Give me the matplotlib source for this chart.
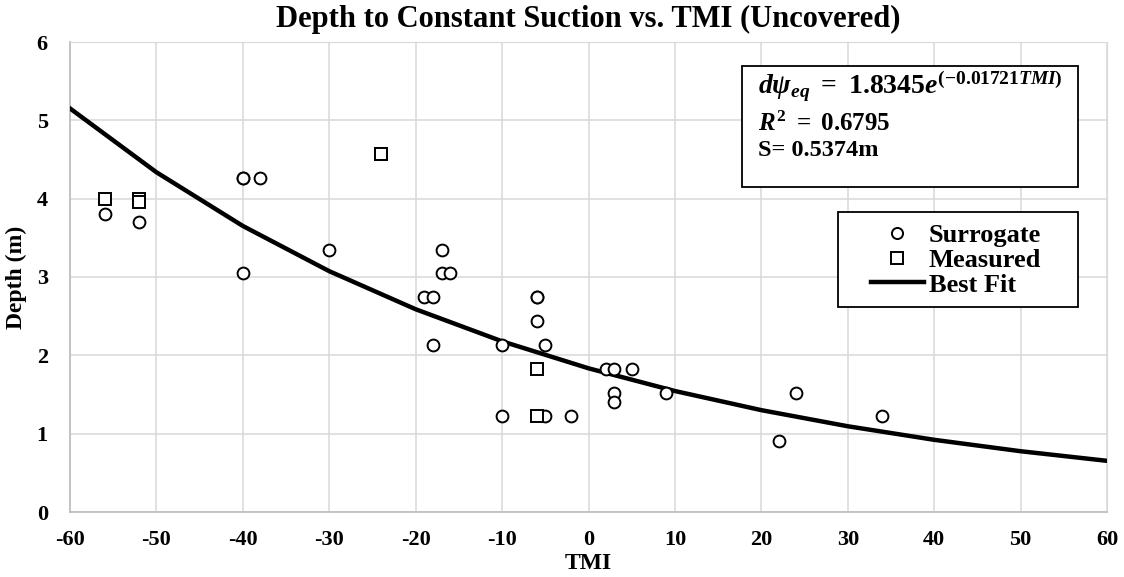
import matplotlib.pyplot as plt
import numpy as np
from matplotlib.patches import Rectangle
from matplotlib.lines import Line2D

plt.rcParams['font.family'] = 'Liberation Serif'
plt.rcParams['font.weight'] = 'bold'
plt.rcParams['axes.unicode_minus'] = False
plt.rcParams['mathtext.fontset'] = 'custom'
plt.rcParams['mathtext.rm'] = 'Liberation Serif:bold'
plt.rcParams['mathtext.it'] = 'Liberation Serif:italic:bold'
plt.rcParams['mathtext.bf'] = 'Liberation Serif:bold'

# surrogate points (TMI, depth m)
surr_tmi = [-56, -52, -40, -40, -38, -40, -30, -19, -18, -18, -17, -17, -16,
            -10, -10, -6, -6, -6, -5, -5, -2, 2, 3, 5, 3, 3, 9, 22, 24, 34]
surr_depth = [3.80, 3.70, 4.27, 4.27, 4.27, 3.05, 3.35, 2.74, 2.74, 2.13, 3.35, 3.05, 3.05,
              2.13, 1.22, 2.74, 2.74, 2.44, 2.13, 1.22, 1.22, 1.83, 1.83, 1.83, 1.52, 1.40,
              1.52, 0.91, 1.52, 1.22]

# measured points
meas_tmi = [-56, -52, -52, -24, -24, -6, -6]
meas_depth = [4.00, 4.00, 3.96, 4.57, 4.57, 1.83, 1.22]

# best fit: d = 1.8345 * exp(-0.01721 * TMI)
fit_a = 1.8345
fit_b = -0.01721
fit_tmi = [-60, -50, -40, -30, -20, -10, 0, 10, 20, 30, 40, 50, 60]
fit_depth = [fit_a * np.exp(fit_b * t) for t in fit_tmi]

fig = plt.figure(figsize=(11.24, 5.77), dpi=100)
ax = fig.add_axes([70/1124, 65/577, 1037/1124, 470/577])

ax.plot(fit_tmi, fit_depth, color='black', lw=3.2, zorder=3)
ax.plot(surr_tmi, surr_depth, 'o', ms=8.5, mfc='white', mec='black', mew=1.4, zorder=4)
ax.plot(meas_tmi, meas_depth, 's', ms=8, mfc='white', mec='black', mew=1.4, zorder=4)

ax.set_xlim(-60, 60)
ax.set_ylim(0, 6)
ax.set_xticks(range(-60, 61, 10))
ax.set_yticks(range(0, 7))
ax.grid(True, color='#d9d9d9', lw=1.1, zorder=0)
ax.set_axisbelow(True)
for s in ['top', 'right']:
    ax.spines[s].set_color('#d9d9d9')
for s in ['left', 'bottom']:
    ax.spines[s].set_color('#bfbfbf')
    ax.spines[s].set_linewidth(1.3)
ax.tick_params(length=0, labelsize=16)
ax.tick_params(axis='x', pad=13)
ax.tick_params(axis='y', pad=16)
for lab in ax.get_xticklabels() + ax.get_yticklabels():
    lab.set_fontweight('bold')

ax.set_xlabel('TMI', fontsize=17, fontweight='bold', labelpad=2)
ax.set_ylabel('Depth (m)', fontsize=17, fontweight='bold', labelpad=7)
ax.set_title('Depth to Constant Suction vs. TMI (Uncovered)', fontsize=22,
             fontweight='bold', pad=11)

# legend box drawn separately so it can be wider than its content
fig.patches.append(Rectangle((838/1124, 1 - 307/577), 240/1124, 95/577,
                             transform=fig.transFigure, facecolor='white',
                             edgecolor='black', lw=1.3, zorder=5))
handles = [
    Line2D([], [], marker='o', ls='none', ms=8, mfc='white', mec='black', mew=1.4),
    Line2D([], [], marker='s', ls='none', ms=8, mfc='white', mec='black', mew=1.4),
    Line2D([], [], color='black', lw=3.2),
]
leg = fig.legend(handles, ['Surrogate', 'Measured', 'Best Fit'],
                 loc='center', bbox_to_anchor=(956/1124, 1 - 260/577),
                 prop={'family': 'Liberation Serif', 'weight': 'bold', 'size': 19},
                 frameon=False, handlelength=2.0, handletextpad=0.2,
                 borderpad=0, labelspacing=0.05, borderaxespad=0)
leg.set_zorder(6)

# equation box
fig.patches.append(Rectangle((742/1124, 1 - 187/577), 336/1124, 121/577,
                             transform=fig.transFigure, facecolor='white',
                             edgecolor='black', lw=1.3, zorder=5))
fig.text(758/1124, 1 - 86/577, r'$d\psi_{eq}\ =\ 1.8345e^{(-0.01721TMI)}$',
         fontsize=20, va='center', ha='left', zorder=6)
fig.text(758/1124, 1 - 124/577, r'$R^2\ =\ 0.6795$',
         fontsize=18, va='center', ha='left', zorder=6)
fig.text(758/1124, 1 - 150/577, 'S= 0.5374m', fontsize=17.5, fontweight='bold',
         va='center', ha='left', zorder=6)

fig.savefig('out.png', dpi=100)
